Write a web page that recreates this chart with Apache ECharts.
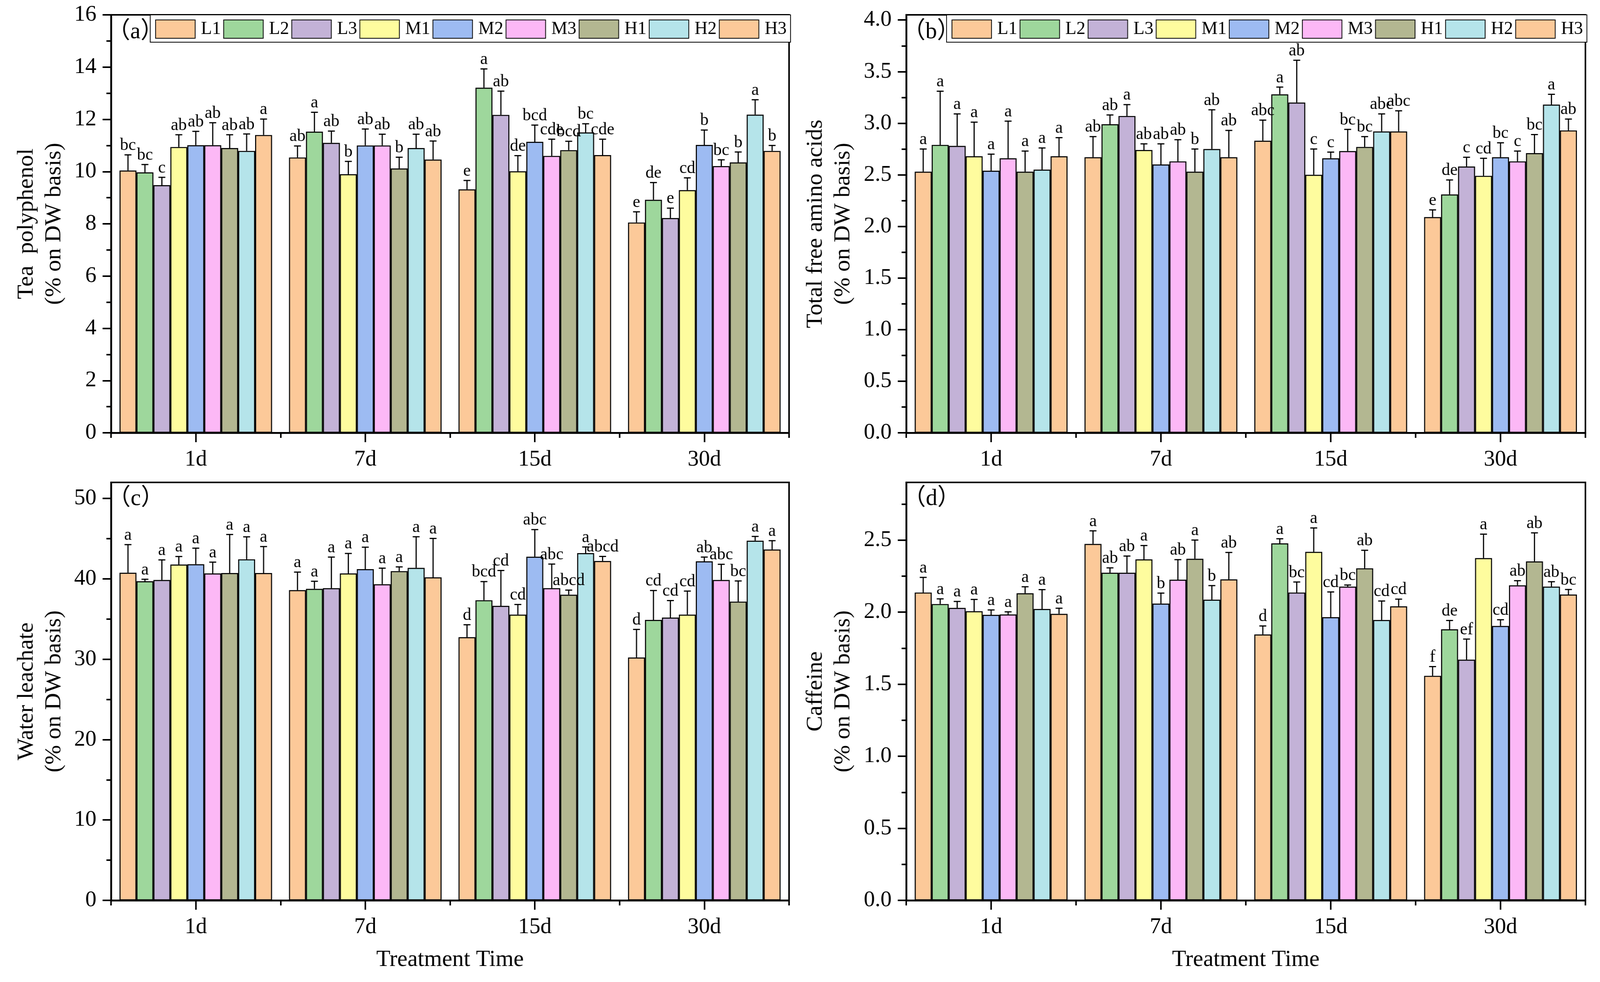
<!DOCTYPE html>
<html>
<head>
<meta charset="utf-8">
<script src="https://cdn.jsdelivr.net/npm/echarts@6/dist/echarts.min.js"></script>
<style>
html,body{margin:0;padding:0;background:#fff;overflow:hidden;}
#c{width:4165px;height:2514px;transform-origin:0 0;}
</style>
</head>
<body>
<div id="c"></div>
<script>
// ---------- data ----------
const categories = ['1d', '7d', '15d', '30d'];
const groups = ['L1', 'L2', 'L3', 'M1', 'M2', 'M3', 'H1', 'H2', 'H3'];
const colors = ['#FCC999', '#9ED79C', '#C3B2D7', '#FEFC9E', '#9DBBF2', '#FCB8F6', '#B3B791', '#B5E4EA', '#FCC999'];

// (a) Tea polyphenol — rows: L1..H3, columns: 1d, 7d, 15d, 30d
const teaMean = [
  [10.04, 10.54, 9.32, 8.05],
  [9.97, 11.53, 13.21, 8.92],
  [9.48, 11.10, 12.17, 8.22],
  [10.94, 9.90, 10.01, 9.29],
  [11.01, 11.00, 11.14, 11.02],
  [11.01, 11.00, 10.60, 10.21],
  [10.90, 10.12, 10.82, 10.35],
  [10.79, 10.90, 11.50, 12.18],
  [11.40, 10.46, 10.63, 10.79]
];
const teaErr = [
  [0.60, 0.44, 0.34, 0.41],
  [0.30, 0.74, 0.72, 0.66],
  [0.30, 0.45, 0.91, 0.38],
  [0.47, 0.49, 0.60, 0.47],
  [0.53, 0.63, 0.64, 0.57],
  [0.86, 0.43, 0.64, 0.24],
  [0.51, 0.43, 0.34, 0.40],
  [0.65, 0.53, 0.33, 0.57],
  [0.61, 0.71, 0.61, 0.21]
];
const teaSig = [
  ['bc', 'ab', 'e', 'e'],
  ['bc', 'a', 'a', 'de'],
  ['c', 'ab', 'ab', 'e'],
  ['ab', 'b', 'de', 'cd'],
  ['ab', 'ab', 'bcd', 'b'],
  ['ab', 'ab', 'cde', 'bc'],
  ['ab', 'b', 'bcd', 'b'],
  ['ab', 'ab', 'bc', 'a'],
  ['a', 'ab', 'cde', 'b']
];

// (b) Total free amino acids
const aminoMean = [
  [2.53, 2.67, 2.83, 2.09],
  [2.79, 2.99, 3.28, 2.31],
  [2.78, 3.07, 3.20, 2.58],
  [2.68, 2.74, 2.50, 2.49],
  [2.54, 2.60, 2.66, 2.67],
  [2.66, 2.63, 2.73, 2.63],
  [2.53, 2.53, 2.77, 2.71],
  [2.55, 2.75, 2.92, 3.18],
  [2.68, 2.67, 2.92, 2.93]
];
const aminoErr = [
  [0.22, 0.20, 0.20, 0.07],
  [0.52, 0.09, 0.07, 0.14],
  [0.31, 0.11, 0.41, 0.09],
  [0.33, 0.06, 0.25, 0.17],
  [0.16, 0.20, 0.06, 0.14],
  [0.36, 0.21, 0.21, 0.10],
  [0.20, 0.22, 0.10, 0.18],
  [0.21, 0.38, 0.17, 0.10],
  [0.18, 0.26, 0.20, 0.11]
];
const aminoSig = [
  ['a', 'ab', 'abc', 'e'],
  ['a', 'ab', 'a', 'de'],
  ['a', 'a', 'ab', 'c'],
  ['a', 'ab', 'c', 'cd'],
  ['a', 'ab', 'c', 'bc'],
  ['a', 'ab', 'bc', 'c'],
  ['a', 'b', 'bc', 'bc'],
  ['a', 'ab', 'abc', 'a'],
  ['a', 'ab', 'abc', 'ab']
];

// (c) Water leachate
const waterMean = [
  [40.76, 38.60, 32.74, 30.21],
  [39.70, 38.76, 37.34, 34.89],
  [39.86, 38.84, 36.64, 35.18],
  [41.78, 40.68, 35.55, 35.55],
  [41.82, 41.21, 42.75, 42.18],
  [40.68, 39.33, 38.84, 39.86],
  [40.72, 40.96, 38.03, 37.17],
  [42.43, 41.37, 43.20, 44.75],
  [40.72, 40.19, 42.22, 43.65]
];
const waterErr = [
  [3.50, 2.24, 1.55, 3.50],
  [0.25, 0.94, 2.32, 3.66],
  [2.50, 3.87, 4.40, 2.12],
  [1.00, 2.48, 1.26, 2.93],
  [2.00, 2.73, 3.38, 0.53],
  [1.40, 2.00, 3.00, 1.95],
  [4.80, 0.53, 0.57, 2.57],
  [2.80, 3.87, 0.77, 0.53],
  [3.30, 4.84, 0.57, 1.10]
];
const waterSig = [
  ['a', 'a', 'd', 'd'],
  ['a', 'a', 'bcd', 'cd'],
  ['a', 'a', 'cd', 'cd'],
  ['a', 'a', 'cd', 'cd'],
  ['a', 'a', 'abc', 'ab'],
  ['a', 'a', 'abc', 'abc'],
  ['a', 'a', 'abcd', 'bc'],
  ['a', 'a', 'a', 'a'],
  ['a', 'a', 'abcd', 'a']
];

// (d) Caffeine
const caffMean = [
  [2.136, 2.473, 1.845, 1.558],
  [2.056, 2.273, 2.477, 1.881],
  [2.029, 2.273, 2.136, 1.670],
  [2.006, 2.366, 2.418, 2.375],
  [1.981, 2.059, 1.965, 1.904],
  [1.984, 2.225, 2.177, 2.186],
  [2.131, 2.370, 2.304, 2.352],
  [2.022, 2.086, 1.945, 2.177],
  [1.988, 2.227, 2.040, 2.122]
];
const caffErr = [
  [0.105, 0.091, 0.059, 0.064],
  [0.036, 0.034, 0.032, 0.061],
  [0.045, 0.116, 0.073, 0.143],
  [0.082, 0.096, 0.166, 0.166],
  [0.034, 0.073, 0.175, 0.043],
  [0.018, 0.139, 0.011, 0.032],
  [0.045, 0.130, 0.125, 0.198],
  [0.134, 0.098, 0.132, 0.034],
  [0.039, 0.187, 0.050, 0.035]
];
const caffSig = [
  ['a', 'a', 'd', 'f'],
  ['a', 'ab', 'a', 'de'],
  ['a', 'ab', 'bc', 'ef'],
  ['a', 'a', 'a', 'a'],
  ['a', 'b', 'cd', 'cd'],
  ['a', 'ab', 'bc', 'ab'],
  ['a', 'a', 'ab', 'ab'],
  ['a', 'b', 'cd', 'ab'],
  ['a', 'ab', 'cd', 'bc']
];

// tick values
const ticksA = [0, 2, 4, 6, 8, 10, 12, 14, 16];
const minorA = [1, 3, 5, 7, 9, 11, 13, 15];
const ticksB = [0, 0.5, 1.0, 1.5, 2.0, 2.5, 3.0, 3.5, 4.0];
const minorB = [0.25, 0.75, 1.25, 1.75, 2.25, 2.75, 3.25, 3.75];
const ticksC = [0, 10, 20, 30, 40, 50];
const minorC = [5, 15, 25, 35, 45];
const ticksD = [0, 0.5, 1.0, 1.5, 2.0, 2.5];
const minorD = [0.25, 0.75, 1.25, 1.75, 2.25, 2.75];

// ---------- fit the 4165px-wide layout into the actual window ----------
const DESIGN_W = 4165, DESIGN_H = 2514;
const el = document.getElementById('c');
const sx = Math.min(1, window.innerWidth / DESIGN_W);
const sy = Math.min(1, window.innerHeight / DESIGN_H);
el.style.transform = 'scale(' + sx + ',' + sy + ')';

// ---------- chart ----------
const F = 'Liberation Serif';
const panels = [
  {mean: teaMean, err: teaErr, sig: teaSig, max: 16, major: ticksA, minor: minorA, dec: 0,
   name: 'Tea  polyphenol\n(% on DW basis)', tag: '（a）', nameGap: 112, xName: '',
   grid: {left: 289, top: 38, width: 1765, height: 1070}, tagX: 279, tagY: 82},
  {mean: aminoMean, err: aminoErr, sig: aminoSig, max: 4.05, major: ticksB, minor: minorB, dec: 1,
   name: 'Total free amino acids\n(% on DW basis)', tag: '（b）', nameGap: 128, xName: '',
   grid: {left: 2359, top: 38, width: 1768, height: 1070}, tagX: 2349, tagY: 82},
  {mean: waterMean, err: waterErr, sig: waterSig, max: 52, major: ticksC, minor: minorC, dec: 0,
   name: 'Water leachate\n(% on DW basis)', tag: '（c）', nameGap: 112, xName: 'Treatment Time',
   grid: {left: 289, top: 1235, width: 1765, height: 1070}, tagX: 280, tagY: 1277},
  {mean: caffMean, err: caffErr, sig: caffSig, max: 2.9, major: ticksD, minor: minorD, dec: 1,
   name: 'Caffeine\n(% on DW basis)', tag: '（d）', nameGap: 128, xName: 'Treatment Time',
   grid: {left: 2359, top: 1235, width: 1768, height: 1070}, tagX: 2350, tagY: 1277}
];

const grid = [], xAxis = [], yAxis = [], series = [], graphic = [];

panels.forEach(function (p, i) {
  grid.push(Object.assign({show: true, borderColor: '#000', borderWidth: 4, backgroundColor: 'rgba(0,0,0,0)'}, p.grid));
  xAxis.push({
    type: 'category', gridIndex: i, data: categories, position: 'bottom',
    axisLine: {show: true, lineStyle: {color: '#000', width: 4.5}},
    axisTick: {show: true, alignWithLabel: true, length: 24, lineStyle: {color: '#000', width: 4}},
    axisLabel: {show: true, interval: 0, color: '#000', fontSize: 58, fontFamily: F, margin: 40},
    splitLine: {show: false},
    name: p.xName, nameLocation: 'middle', nameGap: 122,
    nameTextStyle: {color: '#000', fontSize: 60, fontFamily: F},
    z: 10
  });
  xAxis.push({
    type: 'category', gridIndex: i, data: categories, position: 'bottom',
    axisLine: {show: false},
    axisTick: {show: true, length: 13, lineStyle: {color: '#000', width: 4}},
    axisLabel: {show: false}, splitLine: {show: false}, z: 10
  });
  yAxis.push({
    type: 'value', gridIndex: i, min: 0, max: p.max, position: 'left',
    axisLine: {show: true, lineStyle: {color: '#000', width: 4.5}},
    axisTick: {show: true, length: 22, customValues: p.major, lineStyle: {color: '#000', width: 4}},
    axisLabel: {show: true, customValues: p.major, color: '#000', fontSize: 58, fontFamily: F, margin: 38,
      formatter: (function (d) { return function (v) { return Number(v).toFixed(d); }; })(p.dec)},
    splitLine: {show: false},
    name: p.name, nameLocation: 'middle', nameGap: p.nameGap,
    nameTextStyle: {color: '#000', fontSize: 60, fontFamily: F, lineHeight: 72},
    z: 10
  });
  yAxis.push({
    type: 'value', gridIndex: i, min: 0, max: p.max, position: 'left',
    axisLine: {show: false},
    axisTick: {show: true, length: 12, customValues: p.minor, lineStyle: {color: '#000', width: 4}},
    axisLabel: {show: false}, splitLine: {show: false}, z: 10
  });

  groups.forEach(function (g, s) {
    series.push({
      type: 'bar', name: g, xAxisIndex: 2 * i, yAxisIndex: 2 * i,
      data: p.mean[s], barGap: '0%', barCategoryGap: '10%',
      itemStyle: {color: colors[s], borderColor: '#000', borderWidth: 2.7},
      emphasis: {disabled: true}, silent: true, z: 2
    });
  });

  const errData = [];
  for (let s = 0; s < groups.length; s++) {
    for (let c = 0; c < categories.length; c++) {
      errData.push([c, s, p.mean[s][c], p.err[s][c]]);
    }
  }
  const sig = p.sig;
  series.push({
    type: 'custom', name: 'err' + i, xAxisIndex: 2 * i, yAxisIndex: 2 * i,
    data: errData, encode: {x: 0, y: 2}, z: 5, silent: true, clip: false,
    renderItem: function (params, api) {
      const c = api.value(0), s = api.value(1), v = api.value(2), e = api.value(3);
      const bw = api.size([1, 0])[0] * 0.9 / groups.length;
      const base = api.coord([c, v]);
      const top = api.coord([c, v + e]);
      const x = base[0] + (s - (groups.length - 1) / 2) * bw;
      return {
        type: 'group',
        children: [
          {type: 'line', shape: {x1: x, y1: base[1], x2: x, y2: top[1]}, style: {stroke: '#000', lineWidth: 3}},
          {type: 'line', shape: {x1: x - 9, y1: top[1], x2: x + 9, y2: top[1]}, style: {stroke: '#000', lineWidth: 3}},
          {type: 'text', x: x, y: top[1] - 2,
           style: {text: sig[s][c], fill: '#000', fontSize: 44, fontFamily: F, align: 'center', verticalAlign: 'bottom'}}
        ]
      };
    }
  });

  graphic.push({
    type: 'text', x: p.tagX, y: p.tagY, z: 20,
    style: {text: p.tag, fill: '#000', fontSize: 60, fontFamily: 'Liberation Serif, Noto Sans CJK SC', verticalAlign: 'middle', align: 'left'}
  });
});

const legendBase = {
  data: groups, top: 38, orient: 'horizontal', icon: 'rect',
  itemWidth: 103, itemHeight: 47, itemGap: 6,
  padding: [12, 10, 9, 13],
  borderColor: '#000', borderWidth: 2, backgroundColor: '#fff',
  selectedMode: false,
  textStyle: {color: '#000', fontSize: 47, fontFamily: F, lineHeight: 47, padding: [0, 0, 0, 10]}
};

const option = {
  animation: false,
  backgroundColor: '#fff',
  grid: grid, xAxis: xAxis, yAxis: yAxis, series: series, graphic: graphic,
  legend: [
    Object.assign({}, legendBase, {left: 391}),
    Object.assign({}, legendBase, {left: 2464})
  ]
};

const chart = echarts.init(el, null, {renderer: 'canvas', width: DESIGN_W, height: DESIGN_H});
chart.setOption(option);
</script>
</body>
</html>
